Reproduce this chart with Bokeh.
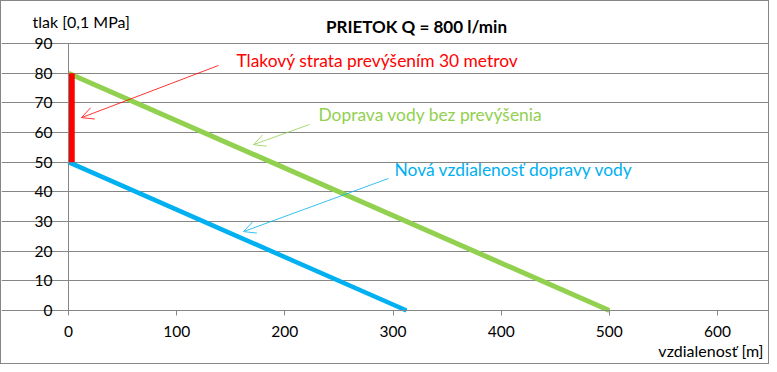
from bokeh.plotting import figure
from bokeh.models import Label, Arrow, OpenHead, FixedTicker, LinearAxis, Grid
from bokeh.embed import file_html
from bokeh.resources import INLINE

# data
green_x = [0, 500]
green_y = [80, 0]
blue_x = [0, 312.5]
blue_y = [50, 0]
red_x = [3, 3]
red_y = [50, 80]
x_ticks = [0, 100, 200, 300, 400, 500, 600]
y_ticks = [0, 10, 20, 30, 40, 50, 60, 70, 80, 90]

title_text = "PRIETOK Q = 800 l/min"
y_label = "tlak [0,1 MPa]"
x_label = "vzdialenosť [m]"
ann_red = "Tlakový strata prevýšením 30 metrov"
ann_green = "Doprava vody bez prevýšenia"
ann_blue = "Nová vzdialenosť dopravy vody"

FONT = "Lato"
GRID = "#868686"
GREEN = "#92D050"
BLUE = "#00B0F0"
RED = "#FF0000"

W, H = 769, 364
# plot area (0..600, 0..90) spans canvas px x 67..716, y 309..42
FL, FR, FB, FT = 67, 716, 309, 42
sx = 600 / (FR - FL)
sy = 90 / (FB - FT)
x_range = (-FL * sx, (W - FL) * sx)
y_range = ((FB - H) * sy, FB * sy)

p = figure(width=W, height=H, x_range=x_range, y_range=y_range,
           output_backend="svg", toolbar_location=None,
           x_axis_location=None, y_axis_location=None, min_border=0)
p.outline_line_color = None
p.background_fill_color = "white"
p.border_fill_color = "white"
p.styles = {"border": "1px solid #868686", "box-sizing": "border-box"}
p.grid.visible = False

xax = LinearAxis(fixed_location=0, ticker=FixedTicker(ticks=x_ticks), bounds=(0, 600))
yax = LinearAxis(fixed_location=0, ticker=FixedTicker(ticks=y_ticks), bounds=(0, 90))
for ax in (xax, yax):
    ax.axis_line_color = GRID
    ax.major_tick_line_color = GRID
    ax.major_tick_out = 5
    ax.major_tick_in = 0
    ax.minor_tick_line_color = None
    ax.major_label_text_font = FONT
    ax.major_label_text_font_size = "15.5px"
    ax.major_label_text_color = "#000000"
xax.major_label_standoff = 10
yax.major_label_standoff = 11
p.add_layout(xax, "below")
p.add_layout(yax, "left")

yg = Grid(dimension=1, ticker=FixedTicker(ticks=y_ticks), bounds=(0, 600),
          grid_line_color=GRID, grid_line_width=1)
p.add_layout(yg)

p.line(green_x, green_y, line_color=GREEN, line_width=5)
p.line(blue_x, blue_y, line_color=BLUE, line_width=4.5)
p.line(red_x, red_y, line_color=RED, line_width=6)

def lab(x, y, t, color="#000000", size="15px", align="left", baseline="middle", style="normal"):
    p.add_layout(Label(x=x, y=y, text=t, text_color=color, text_font=FONT,
                       text_font_size=size, text_align=align, text_baseline=baseline,
                       text_font_style=style))

def clab(cx, cy, t, **kw):
    # canvas px (from top-left) -> data coords
    lab((cx - FL) * sx, (FB - cy) * sy, t, **kw)

clab(415, 25, title_text, align="center", style="bold", size="17px")
clab(31, 20, y_label, size="16px")
clab(762, 349, x_label, align="right", size="16px")
clab(235, 59, ann_red, color=RED, size="17.4px")
clab(317, 113, ann_green, color=GREEN, size="17.4px")
clab(393, 168, ann_blue, color=BLUE, size="17.4px")

def arr(x0, y0, x1, y1, color):
    p.add_layout(Arrow(x_start=x0, y_start=y0, x_end=x1, y_end=y1, line_color=color,
                       line_width=0.8,
                       end=OpenHead(size=12, line_color=color, line_width=0.8)))

arr(138.7, 82.6, 12.0, 65.0, RED)
arr(222.8, 62.7, 171.0, 55.9, GREEN)
arr(295.8, 44.5, 161.8, 26.6, BLUE)

open("out.html", "w").write(file_html(p, INLINE))
